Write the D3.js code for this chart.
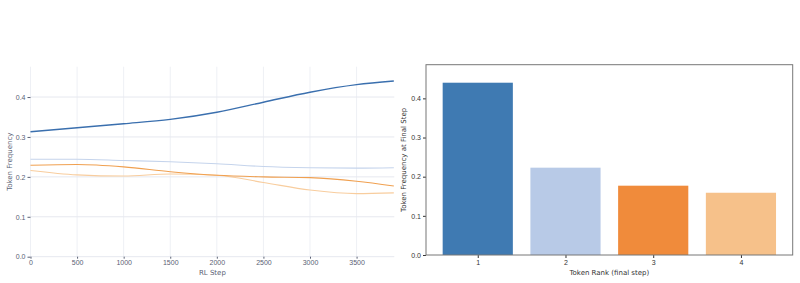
<!DOCTYPE html>
<html>
<head>
<meta charset="utf-8">
<script src="https://cdn.jsdelivr.net/npm/d3@7"></script>
<style>
  body { margin: 0; background: #fff; }
  svg { display: block; font-family: "DejaVu Sans", sans-serif; }
  .lineAxis text { fill: #5a6174; font-size: 7px; }
  .lineAxis path { display: none; }
  .lineAxis line { stroke: #5a6174; }
  .barAxis text { fill: #333; font-size: 7px; }
  .barAxis path { display: none; }
  .barAxis line { stroke: #333; }
</style>
</head>
<body>
<div id="chart"></div>
<script>
// training curves, one value per step
const steps = [0, 500, 1000, 1500, 2000, 2500, 3000, 3500, 3900];
const token1 = [0.313, 0.323, 0.333, 0.344, 0.362, 0.387, 0.412, 0.431, 0.440];
const token2 = [0.244, 0.244, 0.241, 0.238, 0.233, 0.226, 0.223, 0.222, 0.223];
const token3 = [0.229, 0.231, 0.225, 0.213, 0.204, 0.200, 0.198, 0.189, 0.177];
const token4 = [0.216, 0.205, 0.202, 0.207, 0.204, 0.186, 0.167, 0.158, 0.160];

const ranks = ["1", "2", "3", "4"];
const finalFreq = [0.440, 0.223, 0.177, 0.159];

const xTicks = [0, 500, 1000, 1500, 2000, 2500, 3000, 3500];
const yTicks = [0, 0.1, 0.2, 0.3, 0.4];

const lineColors = ["#3a6fae", "#c5d4ec", "#f0a050", "#f8cd9e"];
const lineWidths = [1.4, 1.1, 1.1, 1.1];
const barColors = ["#3f7ab2", "#b8cae7", "#f08b3b", "#f6c18a"];

const svg = d3.select("#chart").append("svg")
    .attr("width", 800)
    .attr("height", 283);

// ---- left: frequency over RL steps ----
const lm = {left: 30.5, top: 66.7, right: 394.3, bottom: 256.7};

const lx = d3.scaleLinear().domain([0, 3905]).range([lm.left, lm.right]);
const ly = d3.scaleLinear().domain([0, 0.476]).range([lm.bottom, lm.top]);

const lg = svg.append("g");

lg.selectAll(".vgrid")
    .data(xTicks)
    .enter()
    .append("line")
    .attr("class", "vgrid")
    .attr("x1", d => lx(d)).attr("x2", d => lx(d))
    .attr("y1", lm.top).attr("y2", lm.bottom)
    .style("stroke", "#eef0f5");

lg.selectAll(".hgrid")
    .data(yTicks)
    .enter()
    .append("line")
    .attr("class", "hgrid")
    .attr("x1", lm.left).attr("x2", lm.right)
    .attr("y1", d => ly(d)).attr("y2", d => ly(d))
    .style("stroke", "#e6e8ef");

lg.append("g")
    .attr("class", "lineAxis")
    .attr("transform", "translate(0," + lm.bottom + ")")
    .call(d3.axisBottom(lx).tickValues(xTicks).tickSize(2).tickPadding(1).tickFormat(d3.format("d")));

lg.append("g")
    .attr("class", "lineAxis")
    .attr("transform", "translate(" + lm.left + ",0)")
    .call(d3.axisLeft(ly).tickValues(yTicks).tickSize(3).tickPadding(2).tickFormat(d3.format(".1f")));

const series = [token1, token2, token3, token4];
const line = d3.line()
    .curve(d3.curveMonotoneX)
    .x((d, i) => lx(steps[i]))
    .y(d => ly(d));

// draw light ones first so the dark blue sits on top
[1, 3, 2, 0].forEach(function(k) {
    lg.append("path")
        .attr("d", line(series[k]))
        .style("fill", "none")
        .style("stroke", lineColors[k])
        .style("stroke-width", lineWidths[k]);
});

lg.append("text")
    .attr("x", (lm.left + lm.right) / 2)
    .attr("y", 275)
    .style("text-anchor", "middle")
    .style("font-size", "7px")
    .style("fill", "#5a6174")
    .text("RL Step");

lg.append("text")
    .attr("transform", "translate(12," + ((lm.top + lm.bottom) / 2) + ") rotate(-90)")
    .style("text-anchor", "middle")
    .style("font-size", "7px")
    .style("fill", "#5a6174")
    .text("Token Frequency");

// ---- right: frequency at the final step ----
const rm = {left: 426, top: 64.7, right: 792.7, bottom: 255};

const bx = d3.scaleLinear().domain([0.41, 4.59]).range([rm.left, rm.right]);
const by = d3.scaleLinear().domain([0, 0.486]).range([rm.bottom, rm.top]);

const rg = svg.append("g");

rg.selectAll(".bar")
    .data(finalFreq)
    .enter()
    .append("rect")
    .attr("class", "bar")
    .attr("x", (d, i) => bx(i + 1 - 0.4))
    .attr("width", bx(1.4) - bx(0.6))
    .attr("y", d => by(d))
    .attr("height", d => by(0) - by(d))
    .style("fill", (d, i) => barColors[i]);

rg.append("g")
    .attr("class", "barAxis")
    .attr("transform", "translate(0," + rm.bottom + ")")
    .call(d3.axisBottom(bx).tickValues([1, 2, 3, 4]).tickSize(3).tickPadding(2).tickFormat((d, i) => ranks[i]));

rg.append("g")
    .attr("class", "barAxis")
    .attr("transform", "translate(" + rm.left + ",0)")
    .call(d3.axisLeft(by).tickValues(yTicks).tickSize(3).tickPadding(2).tickFormat(d3.format(".1f")));

rg.append("rect")
    .attr("x", rm.left).attr("y", rm.top)
    .attr("width", rm.right - rm.left)
    .attr("height", rm.bottom - rm.top)
    .style("fill", "none")
    .style("stroke", "#777")
    .style("stroke-width", 1);

rg.append("text")
    .attr("x", (rm.left + rm.right) / 2)
    .attr("y", 275)
    .style("text-anchor", "middle")
    .style("font-size", "7px")
    .style("fill", "#333")
    .text("Token Rank (final step)");

rg.append("text")
    .attr("transform", "translate(406," + ((rm.top + rm.bottom) / 2) + ") rotate(-90)")
    .style("text-anchor", "middle")
    .style("font-size", "7px")
    .style("fill", "#333")
    .text("Token Frequency at Final Step");
</script>
</body>
</html>
